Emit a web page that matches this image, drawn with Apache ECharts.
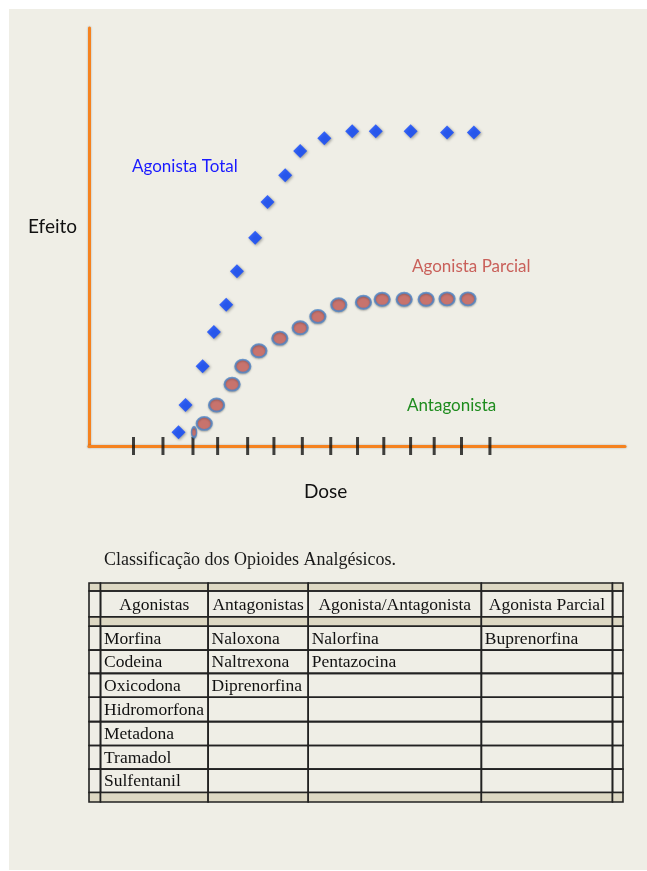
<!DOCTYPE html>
<html>
<head>
<meta charset="utf-8">
<script src="https://cdn.jsdelivr.net/npm/echarts@6/dist/echarts.min.js"></script>
<style>
  html, body { margin: 0; padding: 0; background: #ffffff; }
  #panel { position: absolute; left: 9px; top: 9px; width: 638px; height: 861px; background: #efeee6; }
  #main { position: absolute; left: 0; top: 0; width: 647px; height: 871px; }
</style>
</head>
<body>
<div id="panel"></div>
<div id="main"></div>
<script>
// dose / effect, both axes on a 0-100 scale
const totalDose = [16.7, 18.0, 21.2, 23.3, 25.6, 27.6, 31.0, 33.3, 36.6, 39.4, 43.9, 49.1, 53.5, 60.0, 66.8, 71.8];
const totalEffect = [3.3, 9.8, 19.1, 27.3, 33.8, 41.8, 49.8, 58.4, 64.8, 70.6, 73.6, 75.3, 75.3, 75.3, 75.0, 75.0];
const partialDose = [19.6, 21.5, 23.8, 26.7, 28.7, 31.7, 35.6, 39.4, 42.7, 46.6, 51.2, 54.7, 58.8, 62.9, 66.8, 70.7];
const partialEffect = [3.3, 5.4, 9.8, 14.8, 19.1, 22.8, 25.8, 28.3, 31.0, 33.8, 34.4, 35.1, 35.1, 35.1, 35.2, 35.2];
const tickDose = [8.3, 13.8, 19.4, 24.0, 29.6, 34.5, 39.8, 45.1, 50.1, 55.0, 60.0, 64.4, 69.5, 74.8];

const tableTitle = "Classificação dos Opioides Analgésicos.";
const tableHeaders = ["Agonistas", "Antagonistas", "Agonista/Antagonista", "Agonista Parcial"];
const agonistas = ["Morfina", "Codeina", "Oxicodona", "Hidromorfona", "Metadona", "Tramadol", "Sulfentanil"];
const antagonistas = ["Naloxona", "Naltrexona", "Diprenorfina"];
const mistos = ["Nalorfina", "Pentazocina"];
const parciais = ["Buprenorfina"];

// table layout (px): thin edge column/rows around the real cells
const colW = [11.5, 107.5, 100, 173, 131, 10.5];
const rowH = [8, 26, 9.3, 24, 23.3, 24, 24.4, 24, 23.6, 23.4, 9.6];
const colEdge = [0];
colW.forEach(w => colEdge.push(colEdge[colEdge.length - 1] + w));
const rowEdge = [0];
rowH.forEach(h => rowEdge.push(rowEdge[rowEdge.length - 1] + h));

const columns = [agonistas, antagonistas, mistos, parciais];
const cells = [];
const cellText = [];
for (let r = 0; r < rowH.length; r++) {
  for (let c = 0; c < colW.length; c++) {
    let t = "";
    if (r === 1 && c >= 1 && c <= 4) t = tableHeaders[c - 1];
    if (r >= 3 && r <= 9 && c >= 1 && c <= 4) t = columns[c - 1][r - 3] || "";
    cells.push([c, r]);
    cellText.push(t);
  }
}

function renderCell(params, api) {
  const c = api.value(0), r = api.value(1);
  const p0 = api.coord([colEdge[c], rowEdge[r]]);
  const p1 = api.coord([colEdge[c + 1], rowEdge[r + 1]]);
  const strip = r === 0 || r === 2 || r === rowH.length - 1;
  const header = r === 1;
  const children = [{
    type: "rect",
    shape: { x: p0[0], y: p0[1], width: p1[0] - p0[0], height: p1[1] - p0[1] },
    style: { fill: strip ? "#ddd8c3" : "rgba(0,0,0,0)", stroke: "#222", lineWidth: 1.6 },
  }];
  const txt = cellText[params.dataIndex];
  if (txt) {
    children.push({
      type: "text",
      style: {
        text: txt,
        x: header ? (p0[0] + p1[0]) / 2 : p0[0] + 3.5,
        y: (p0[1] + p1[1]) / 2 + 1,
        align: header ? "center" : "left",
        verticalAlign: "middle",
        font: '17.5px "Liberation Serif"',
        fill: "#111",
      },
    });
  }
  return { type: "group", children };
}

const sans = "Lato";
const chart = echarts.init(document.getElementById("main"));

chart.setOption({
  animation: false,
  backgroundColor: "transparent",
  title: {
    text: tableTitle,
    left: 104,
    top: 551,
    padding: 0,
    textStyle: { fontFamily: "Liberation Serif", fontSize: 18, fontWeight: "normal", color: "#1a1a1a" },
  },
  grid: [
    { left: 89, top: 28, width: 536, height: 418 },
    { left: 89, top: 583, width: 534, height: 219 },
  ],
  xAxis: [
    {
      type: "value", min: 0, max: 100, gridIndex: 0,
      axisLine: { lineStyle: { color: "#f5821f", width: 3, shadowBlur: 2, shadowColor: "rgba(0,0,0,0.3)" } },
      axisTick: { show: false }, axisLabel: { show: false }, splitLine: { show: false },
    },
    { type: "value", min: 0, max: colEdge[colEdge.length - 1], gridIndex: 1, show: false },
  ],
  yAxis: [
    {
      type: "value", min: 0, max: 100, gridIndex: 0,
      axisLine: { show: true, lineStyle: { color: "#f5821f", width: 3, shadowBlur: 2, shadowColor: "rgba(0,0,0,0.3)" } },
      axisTick: { show: false }, axisLabel: { show: false }, splitLine: { show: false },
    },
    { type: "value", min: 0, max: rowEdge[rowEdge.length - 1], inverse: true, gridIndex: 1, show: false },
  ],
  graphic: [
    { type: "text", left: 28, top: 217, style: { text: "Efeito", font: `19px ${sans}`, fill: "#111" } },
    { type: "text", left: 304, top: 482, style: { text: "Dose", font: `19px ${sans}`, fill: "#111" } },
    { type: "text", left: 132, top: 158, style: { text: "Agonista Total", font: `17px ${sans}`, fill: "#1a1aff" } },
    { type: "text", left: 412, top: 258, style: { text: "Agonista Parcial", font: `17px ${sans}`, fill: "#c9605a" } },
    { type: "text", left: 407, top: 397, style: { text: "Antagonista", font: `17px ${sans}`, fill: "#1e8c1e" } },
  ],
  series: [
    {
      name: "ticks",
      type: "scatter",
      xAxisIndex: 0, yAxisIndex: 0,
      data: tickDose.map(d => [d, 0]),
      symbol: "rect",
      symbolSize: [3, 18],
      clip: false,
      itemStyle: { color: "#111" },
      z: 4,
    },
    {
      name: "Agonista Total",
      type: "scatter",
      xAxisIndex: 0, yAxisIndex: 0,
      data: totalDose.map((d, i) => [d, totalEffect[i]]),
      symbol: "diamond",
      symbolSize: [14, 14],
      itemStyle: { color: "#0a45ff", shadowBlur: 3, shadowColor: "rgba(0,0,0,0.45)", shadowOffsetX: 1, shadowOffsetY: 1 },
      z: 5,
    },
    {
      name: "Agonista Parcial",
      type: "scatter",
      xAxisIndex: 0, yAxisIndex: 0,
      data: partialDose.map((d, i) => i === 0
        ? { value: [d, partialEffect[i]], symbolSize: [5, 10] }
        : [d, partialEffect[i]]),
      symbol: "circle",
      symbolSize: [15, 13],
      itemStyle: { color: "#cc625d", borderColor: "#4f86c8", borderWidth: 2, shadowBlur: 2, shadowColor: "rgba(0,0,0,0.3)", shadowOffsetY: 1 },
      z: 5,
    },
    {
      name: "tabela",
      type: "custom",
      xAxisIndex: 1, yAxisIndex: 1,
      data: cells,
      renderItem: renderCell,
      clip: false,
      silent: true,
    },
  ],
});
</script>
</body>
</html>
